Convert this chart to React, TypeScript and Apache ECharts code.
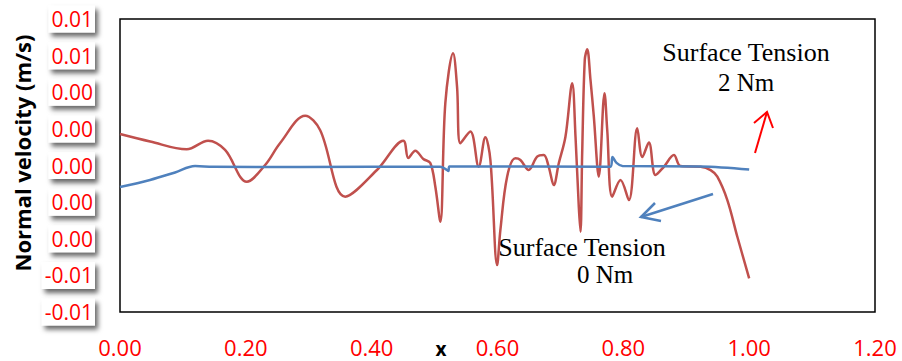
import React, { useEffect, useRef } from 'react';
import * as echarts from 'echarts';

// Surface tension 2 Nm (red)
const redX = [0, 0.048, 0.106, 0.14, 0.167, 0.2016, 0.2307, 0.2546, 0.2944, 0.318, 0.358, 0.4084, 0.4503, 0.4582, 0.4694, 0.4821, 0.4932, 0.5012, 0.5091, 0.5171, 0.5294, 0.5357, 0.541, 0.5569, 0.5701, 0.5807, 0.5887, 0.5994, 0.6046, 0.6153, 0.6285, 0.6364, 0.6496, 0.663, 0.6735, 0.6814, 0.6894, 0.6974, 0.708, 0.7187, 0.724, 0.7292, 0.7319, 0.7346, 0.7387, 0.7426, 0.7478, 0.7531, 0.761, 0.7701, 0.7744, 0.7823, 0.7955, 0.8088, 0.8221, 0.8301, 0.8406, 0.8512, 0.8644, 0.8804, 0.891, 0.9228, 0.9387, 0.9494, 0.9653, 0.9812, 1.0];
const redY = [0.00172, 0.00131, 0.000885, 0.001355, 0.00085, -0.000885, 0.00003, 0.00123, 0.00272, 0.00194, -0.0017, -0.000246, 0.001355, 0.00041, 0.00081, 0.000355, 0.000137, -0.00116, -0.00307, 0.00342, 0.00613, 0.00431, 0.00121, 0.00185, -0.00007, 0.00154, 0.0003, -0.00544, -0.00352, -0.00061, 0.00039, 0.0003, -0.00025, 0.00048, 0.00057, -0.00007, -0.00107, 0.00012, 0.00157, 0.00449, 0.00157, -0.00225, -0.00362, 0.00068, 0.00577, 0.00635, 0.00467, 0.00267, -0.00061, 0.00395, 0.00194, -0.0017, -0.00079, -0.00189, 0.00203, 0.00046, 0.00125, -0.00052, -0.00007, 0.00057, -0.00003, -0.00007, -0.00025, -0.00061, -0.00189, -0.00389, -0.00616];

// Surface tension 0 Nm (blue)
const blueX = [0, 0.0477, 0.0875, 0.1193, 0.148, 0.2864, 0.509, 0.5187, 0.5219, 0.5235, 0.7796, 0.7828, 0.7892, 0.7987, 0.9228, 1.0];
const blueY = [-0.001175, -0.00079, -0.00038, -0.00003, -0.00007, -0.00008, -0.00007, -0.00022, -0.0003, -0.00005, -0.00007, 0.00046, 0.00014, -0.00003, -0.00005, -0.00022];

const xMin = 0;
const xMax = 1.2;
const xStep = 0.2;
const yMin = -0.008;
const yMax = 0.008;
const yStep = 0.002;

const RED = '#C0504D';
const BLUE = '#4F81BD';

const txt = (x: number, y: number, text: string, font: string, va = 'middle') => ({
  type: 'text', x, y,
  style: {
    text, font, fill: '#000',
    align: 'center', verticalAlign: va, textAlign: 'center', textVerticalAlign: va,
  },
});

export default function App() {
  const ref = useRef<HTMLDivElement>(null);
  useEffect(() => {
    if (!ref.current) return;
    const chart = echarts.init(ref.current, null, { renderer: 'svg' });
    const red = redX.map((x, i) => [x, redY[i]]);
    const blue = blueX.map((x, i) => [x, blueY[i]]);
    chart.setOption({
      animation: false,
      backgroundColor: '#fff',
      grid: {
        left: 120, right: 27, top: 19, bottom: 49,
        show: true, borderColor: '#000', borderWidth: 1.5, backgroundColor: 'transparent',
      },
      xAxis: {
        type: 'value', min: xMin, max: xMax, interval: xStep,
        axisLine: { show: false }, axisTick: { show: false }, splitLine: { show: false },
        axisLabel: {
          color: '#FF0000', fontFamily: 'Open Sans', fontSize: 22, margin: 24,
          formatter: (v: number) => v.toFixed(2),
        },
      },
      yAxis: {
        type: 'value', min: yMin, max: yMax, interval: yStep,
        axisLine: { show: false }, axisTick: { show: false }, splitLine: { show: false },
        axisLabel: {
          color: '#FF0000', fontFamily: 'Open Sans', fontSize: 21, margin: 25,
          backgroundColor: '#fff', padding: [3, 2, 3, 3],
          shadowColor: 'rgba(0,0,0,0.6)', shadowBlur: 5, shadowOffsetX: 3, shadowOffsetY: 4,
          formatter: (v: number) => {
            let s = v.toFixed(2);
            if (s === '-0.00') s = '0.00';
            return s;
          },
        },
      },
      series: [
        {
          name: '2 Nm', type: 'line', data: red, smooth: 0.35, symbol: 'none',
          lineStyle: { color: RED, width: 2.5 }, z: 2,
        },
        {
          name: '0 Nm', type: 'line', data: blue, smooth: 0.35, symbol: 'none',
          lineStyle: { color: BLUE, width: 2.5 }, z: 3,
        },
      ],
      graphic: [
        {
          type: 'text', x: 22, y: 153, rotation: Math.PI / 2,
          style: {
            text: 'Normal velocity (m/s)', font: 'bold 22px "Open Sans"', fill: '#000',
            align: 'center', verticalAlign: 'middle', textAlign: 'center', textVerticalAlign: 'middle',
          },
        },
        txt(441, 358, 'x', 'bold 19px "Open Sans"', 'bottom'),
        txt(746, 52, 'Surface Tension', '26px "Liberation Serif"'),
        txt(746, 82, '2 Nm', '25px "Liberation Serif"'),
        txt(582, 247, 'Surface Tension', '26px "Liberation Serif"'),
        txt(605, 274, '0 Nm', '25px "Liberation Serif"'),
        {
          type: 'polyline',
          shape: { points: [[755, 153], [767, 112]] },
          style: { stroke: '#FF0000', lineWidth: 2, fill: 'none' },
        },
        {
          type: 'polyline',
          shape: { points: [[754, 123], [767, 112], [773, 128]] },
          style: { stroke: '#FF0000', lineWidth: 2, fill: 'none' },
        },
        {
          type: 'polyline',
          shape: { points: [[713, 194], [641, 217]] },
          style: { stroke: BLUE, lineWidth: 2.5, fill: 'none' },
        },
        {
          type: 'polyline',
          shape: { points: [[655, 203], [641, 217], [661, 221]] },
          style: { stroke: BLUE, lineWidth: 2.5, fill: 'none' },
        },
      ],
    });
    return () => chart.dispose();
  }, []);
  return (
    <div
      ref={ref}
      style={{ position: 'fixed', left: 0, top: 0, width: 902, height: 361 }}
    />
  );
}
